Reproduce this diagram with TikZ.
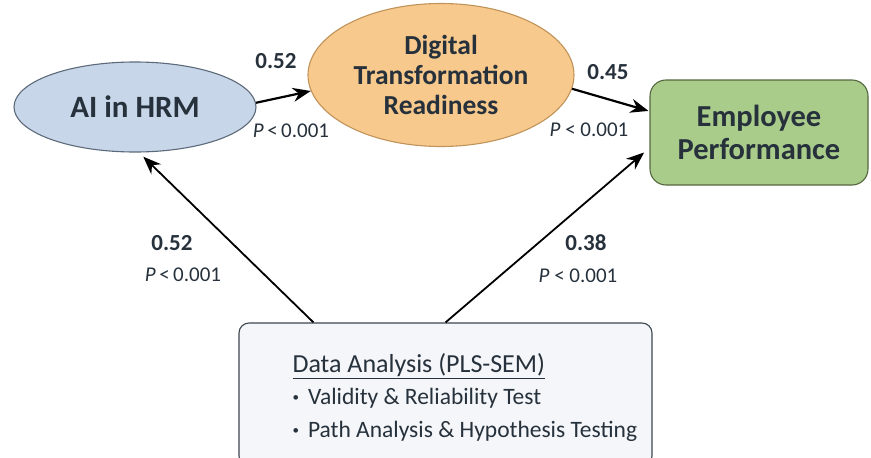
\documentclass[tikz,border=0pt]{standalone}
\usepackage{fontspec}
\setmainfont{Carlito}
\usetikzlibrary{shapes.geometric,arrows.meta}

\definecolor{inkdark}{HTML}{26313C}
\definecolor{aifill}{HTML}{C7D6E8}
\definecolor{aidraw}{HTML}{5C6A7A}
\definecolor{dtrfill}{HTML}{F8C98C}
\definecolor{dtrdraw}{HTML}{C0935A}
\definecolor{epfill}{HTML}{A9CC8A}
\definecolor{epdraw}{HTML}{55683F}
\definecolor{boxfill}{HTML}{F4F6F9}
\definecolor{boxdraw}{HTML}{3E4650}

\newcommand{\smalldot}{\raisebox{3pt}{\fontsize{13}{13}\selectfont\textbullet}\hspace{9pt}}

\begin{document}
\begin{tikzpicture}[x=1pt,y=-1pt,>={Stealth[length=18pt,width=14pt]},
                    construct/.style={ellipse,draw,line width=1.1pt,inner sep=0pt,
                      text=inkdark,align=center,font=\bfseries},
                    coef/.style={text=inkdark,font=\fontsize{23}{26}\selectfont\bfseries},
                    pval/.style={text=inkdark,font=\fontsize{21}{24}\selectfont},
                    boxline/.style={text=inkdark,anchor=west,font=\fontsize{23.5}{28}\selectfont}]
  \useasboundingbox (0,0) rectangle (871,458);

  \node[construct,fill=aifill,draw=aidraw,minimum width=242pt,minimum height=90pt,
        font=\fontsize{31}{34}\selectfont\bfseries] (AI) at (135,107) {AI in HRM};
  \node[construct,fill=dtrfill,draw=dtrdraw,minimum width=266pt,minimum height=143pt,
        font=\fontsize{27.5}{30}\selectfont\bfseries] (DTR) at (441,75)
        {Digital\\Transformation\\Readiness};
  \node[draw=epdraw,fill=epfill,line width=1.1pt,rounded corners=16pt,
        minimum width=218pt,minimum height=105pt,text=inkdark,align=center,
        font=\fontsize{30.5}{33}\selectfont\bfseries] (EP) at (759,132.5)
        {Employee\\Performance};
  \node[draw=boxdraw,fill=boxfill,line width=1.1pt,rounded corners=10pt,
        minimum width=413pt,minimum height=143pt] (DATA) at (445.5,394.5) {};

  % box text
  \node[boxline,font=\fontsize{26}{30}\selectfont] (title) at (289,366)
        {\underline{Data Analysis (PLS-SEM)}};
  \node[boxline] (item1) at (289,398) {\smalldot Validity \& Reliability Test};
  \node[boxline] (item2) at (289,431) {\smalldot Path Analysis \& Hypothesis Testing};

  % paths
  \path[->,line width=2.2pt]
    (AI.2) edge (DTR.187)
    (DTR.-6) edge[shorten >=1pt] (EP.169);
  \path[->,line width=1.8pt]
    ([xshift=-132pt]DATA.north) edge[shorten >=6pt] (AI.-85)
    (DATA.north) edge[shorten >=7pt] (EP.188);

  % coefficients
  \node[coef] (c1) at (276,61) {0.52};
  \node[pval] (p1) at (291,131) {\textit{P}\,<\,0.001};
  \node[coef] (c2) at (608,72) {0.45};
  \node[pval] (p2) at (589,130) {\textit{P} < 0.001};
  \node[coef] (c3) at (172,243) {0.52};
  \node[pval] (p3) at (183,275) {\textit{P}\,<\,0.001};
  \node[coef] (c4) at (586,243) {0.38};
  \node[pval] (p4) at (578,276) {\textit{P} < 0.001};
\end{tikzpicture}
\end{document}
